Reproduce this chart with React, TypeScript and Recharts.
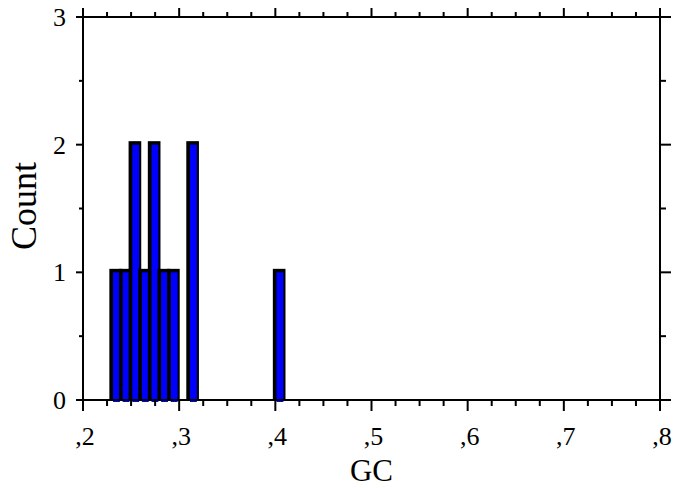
import { Bar, ComposedChart, Label, XAxis, YAxis } from "recharts";

// histogram of GC content, bin width 0.01
const BIN = 0.01;
const binStarts = [0.23, 0.24, 0.25, 0.26, 0.27, 0.28, 0.29, 0.31, 0.4];
const counts = [1, 1, 2, 1, 2, 1, 1, 2, 1];

const xTicks = [
  0.2, 0.225, 0.25, 0.275, 0.3, 0.325, 0.35, 0.375, 0.4, 0.425, 0.45, 0.475,
  0.5, 0.525, 0.55, 0.575, 0.6, 0.625, 0.65, 0.675, 0.7, 0.725, 0.75, 0.775,
  0.8,
];
const yTicks = [0, 0.5, 1, 1.5, 2, 2.5, 3];
const X_MIN = 0.2;
const X_MAX = 0.8;

const data = binStarts.map((s, i) => ({
  gc: +(s + BIN / 2).toFixed(3),
  count: counts[i],
}));

const W = 674;
const H = 488;
const LEFT = 83;
const RIGHT = 14;
const TOP = 17;
const BOTTOM = 88;
const PLOT_W = W - LEFT - RIGHT;
const BAR_SIZE = (PLOT_W * BIN) / (X_MAX - X_MIN);

const FONT = "'Liberation Serif', 'Times New Roman', serif";
const BLUE = "#0000ff";

const isMajorX = (v: number) => Math.abs(v * 10 - Math.round(v * 10)) < 1e-6;
const isMajorY = (v: number) => Math.abs(v - Math.round(v)) < 1e-6;
const fmtX = (v: number) => "," + Math.round(v * 10);

function XTick(props: any) {
  const { x, y, payload, side } = props;
  const major = isMajorX(payload.value);
  if (side === "top") {
    const len = major ? 9 : 5;
    return <line x1={x} x2={x} y1={y} y2={y - len} stroke="#000" strokeWidth={2} />;
  }
  const len = major ? 11 : 6;
  return (
    <g>
      <line x1={x} x2={x} y1={y} y2={y + len} stroke="#000" strokeWidth={2} />
      {major && (
        <text x={x + 2} y={y + 45} textAnchor="middle" fontFamily={FONT} fontSize={26} fill="#000">
          {fmtX(payload.value)}
        </text>
      )}
    </g>
  );
}

function YTick(props: any) {
  const { x, y, payload, side } = props;
  const major = isMajorY(payload.value);
  if (side === "right") {
    const len = major ? 11 : 6;
    return <line x1={x} x2={x + len} y1={y} y2={y} stroke="#000" strokeWidth={2} />;
  }
  const len = major ? 7 : 4;
  return (
    <g>
      <line x1={x} x2={x - len} y1={y} y2={y} stroke="#000" strokeWidth={2} />
      {major && (
        <text x={x - 17} y={y + 9} textAnchor="end" fontFamily={FONT} fontSize={26} fill="#000">
          {payload.value}
        </text>
      )}
    </g>
  );
}

// black frame sitting slightly up/left, blue fill on top of it
function HistBar(props: any) {
  const { x, y, width, height } = props;
  if (!height) return null;
  return (
    <g>
      <rect x={x - 2.5} y={y - 3.5} width={width + 4} height={height + 3} fill="#000" />
      <rect x={x + 1.2} y={y} width={width - 1.8} height={height + 2} fill={BLUE} />
    </g>
  );
}

const Nothing = () => null;

export default function App() {
  return (
    <div style={{ width: W, height: H, background: "#fff" }}>
      <style>{"body{margin:0}"}</style>
      <ComposedChart
        width={W}
        height={H}
        data={data}
        margin={{ top: 0, right: 0, bottom: 0, left: 0 }}
      >
        <Bar
          dataKey="count"
          barSize={BAR_SIZE}
          shape={<HistBar />}
          isAnimationActive={false}
        />
        {/* invisible twin so the top and right frame axes get a scale */}
        <Bar
          dataKey="count"
          xAxisId="top"
          yAxisId="right"
          barSize={BAR_SIZE}
          shape={<Nothing />}
          isAnimationActive={false}
        />
        <XAxis
          dataKey="gc"
          type="number"
          domain={[X_MIN, X_MAX]}
          ticks={xTicks}
          interval={0}
          height={BOTTOM}
          tickLine={false}
          tickSize={0}
          tickMargin={0}
          axisLine={{ stroke: "#000", strokeWidth: 2 }}
          tick={(p: any) => <XTick {...p} side="bottom" />}
        >
          <Label
            content={() => (
              <text x={LEFT + PLOT_W / 2} y={481} textAnchor="middle" fontFamily={FONT} fontSize={31} fill="#000">
                GC
              </text>
            )}
          />
        </XAxis>
        <XAxis
          xAxisId="top"
          dataKey="gc"
          orientation="top"
          type="number"
          domain={[X_MIN, X_MAX]}
          ticks={xTicks}
          interval={0}
          height={TOP}
          tickLine={false}
          tickSize={0}
          tickMargin={0}
          axisLine={{ stroke: "#000", strokeWidth: 2 }}
          tick={(p: any) => <XTick {...p} side="top" />}
        />
        <YAxis
          type="number"
          domain={[0, 3]}
          ticks={yTicks}
          interval={0}
          width={LEFT}
          tickLine={false}
          tickSize={0}
          tickMargin={0}
          axisLine={{ stroke: "#000", strokeWidth: 2 }}
          tick={(p: any) => <YTick {...p} side="left" />}
        >
          <Label
            content={() => (
              <text
                x={36}
                y={206}
                textAnchor="middle"
                transform="rotate(-90, 36, 206)"
                fontFamily={FONT}
                fontSize={36}
                fill="#000"
              >
                Count
              </text>
            )}
          />
        </YAxis>
        <YAxis
          yAxisId="right"
          orientation="right"
          type="number"
          domain={[0, 3]}
          ticks={yTicks}
          interval={0}
          width={RIGHT}
          tickLine={false}
          tickSize={0}
          tickMargin={0}
          axisLine={{ stroke: "#000", strokeWidth: 2 }}
          tick={(p: any) => <YTick {...p} side="right" />}
        />
      </ComposedChart>
    </div>
  );
}
